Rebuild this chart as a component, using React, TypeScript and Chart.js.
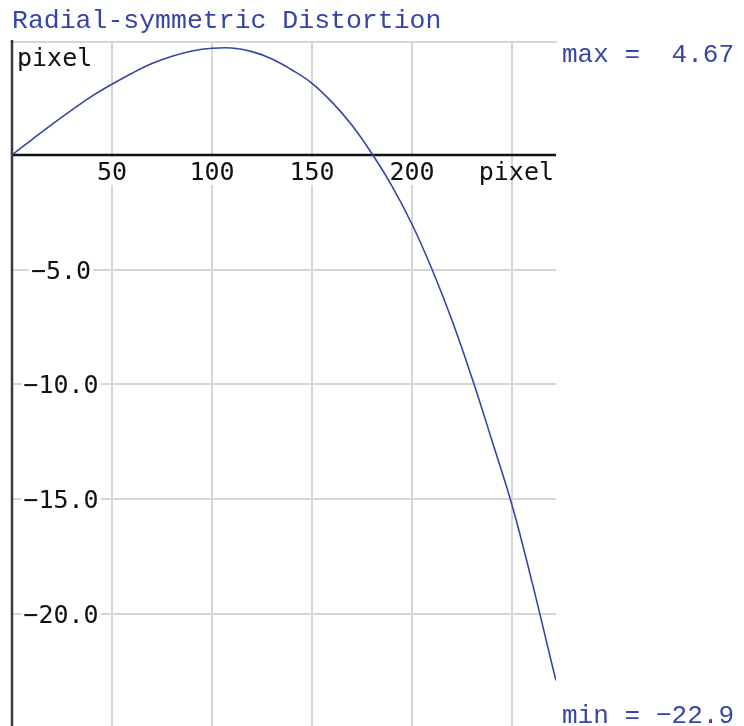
import { useEffect, useRef } from "react";
import { Chart, registerables } from "chart.js";

Chart.register(...registerables);

// ---- data ----
const radius = [0, 10, 20, 30, 40, 50, 60, 70, 80, 90, 100, 110, 120, 130, 140, 150, 160, 170, 180, 190, 200, 210, 220, 230, 240, 250, 260, 270, 272];
const distortion = [0, 0.67, 1.33, 1.96, 2.56, 3.08, 3.56, 3.98, 4.3, 4.53, 4.65, 4.66, 4.5, 4.18, 3.7, 3.12, 2.3, 1.29, 0.05, -1.36, -3.02, -4.98, -7.2, -9.72, -12.45, -15.25, -18.6, -22.2, -22.9];
const xTickLabels = [50, 100, 150, 200];
const yTicks = [-5, -10, -15, -20];
const titleText = "Radial-symmetric Distortion";
const unitLabel = "pixel";
const maxText = "max =";
const maxValue = "4.67";
const minText = "min =";
const minValue = "\u221222.9";

const X_MIN = 0;
const X_MAX = 272;
const Y_MIN = -24.88;
const Y_MAX = 4.92;

const BLUE = "#3546a6";
const GRID = "#d6d6d6";
const TICK_FONT = "25px 'DejaVu Sans Mono'";
const LABEL_FONT = "26px 'Liberation Mono'";
const TITLE_FONT = "26.5px 'Liberation Mono'";

const fmtY = (v: number) => v.toFixed(1).replace("-", "\u2212");

const overlay = {
  id: "overlay",
  beforeDatasetsDraw(chart: any) {
    const { ctx, chartArea, scales } = chart;
    const xs = scales.x;
    const ys = scales.y;
    const x0 = xs.getPixelForValue(0);
    const y0 = ys.getPixelForValue(0);
    ctx.save();
    // top border
    ctx.strokeStyle = GRID;
    ctx.lineWidth = 2;
    ctx.beginPath();
    ctx.moveTo(chartArea.left - 2, chartArea.top);
    ctx.lineTo(chartArea.right + 1, chartArea.top);
    ctx.stroke();

    // tick labels with backdrops
    ctx.font = TICK_FONT;
    ctx.textAlign = "center";
    ctx.textBaseline = "alphabetic";
    for (const v of xTickLabels) {
      const px = xs.getPixelForValue(v);
      const s = String(v);
      const w = ctx.measureText(s).width;
      ctx.fillStyle = "#fff";
      ctx.fillRect(px - w / 2 - 2, y0 + 2, w + 4, 28);
      ctx.fillStyle = "#111";
      ctx.fillText(s, px, y0 + 25);
    }
    for (const v of yTicks) {
      const py = ys.getPixelForValue(v);
      const s = fmtY(v);
      const w = ctx.measureText(s).width;
      const cx = x0 + 49;
      ctx.fillStyle = "#fff";
      ctx.fillRect(cx - w / 2 - 2, py - 11, w + 4, 22);
      ctx.fillStyle = "#111";
      ctx.fillText(s, cx, py + 9);
    }
    // unit labels
    ctx.textAlign = "right";
    ctx.fillText(unitLabel, chartArea.right - 2, y0 + 25);
    ctx.textAlign = "left";
    ctx.fillText(unitLabel, x0 + 5, chartArea.top + 24);

    // axes
    ctx.strokeStyle = "#111";
    ctx.lineWidth = 2.5;
    ctx.beginPath();
    ctx.moveTo(chartArea.left, y0);
    ctx.lineTo(chartArea.right, y0);
    ctx.stroke();
    ctx.strokeStyle = "#3a3a3a";
    ctx.beginPath();
    ctx.moveTo(x0, chartArea.top - 2);
    ctx.lineTo(x0, chartArea.bottom);
    ctx.stroke();
    ctx.restore();
  },
  afterDraw(chart: any) {
    const { ctx, chartArea } = chart;
    ctx.save();
    ctx.fillStyle = BLUE;
    ctx.textBaseline = "alphabetic";
    ctx.textAlign = "left";
    ctx.font = TITLE_FONT;
    ctx.fillText(titleText, 12, 28);
    ctx.font = LABEL_FONT;
    ctx.fillText(maxText, chartArea.right + 6, chartArea.top + 20);
    ctx.fillText(minText, chartArea.right + 6, chartArea.bottom - 3);
    ctx.textAlign = "right";
    ctx.fillText(maxValue, 734, chartArea.top + 20);
    ctx.fillText(minValue, 734, chartArea.bottom - 3);
    ctx.restore();
  },
};

export default function App() {
  const ref = useRef<HTMLCanvasElement | null>(null);
  useEffect(() => {
    if (!ref.current) return;
    const chart = new Chart(ref.current, {
      type: "line",
      data: {
        datasets: [
          {
            data: radius.map((r, i) => ({ x: r, y: distortion[i] })),
            borderColor: BLUE,
            borderWidth: 1.6,
            pointRadius: 0,
            tension: 0.4,
            fill: false,
          },
        ],
      },
      options: {
        animation: false,
        responsive: false,
        events: [],
        layout: { padding: { left: 12, top: 42, right: 188, bottom: 0 } },
        plugins: { legend: { display: false }, tooltip: { enabled: false }, title: { display: false } },
        scales: {
          x: {
            type: "linear",
            min: X_MIN,
            max: X_MAX,
            ticks: { display: false, stepSize: 50, includeBounds: false },
            grid: { color: GRID, lineWidth: 2, drawTicks: false },
            border: { display: false },
            afterFit: (s: any) => { s.height = 0; },
          },
          y: {
            type: "linear",
            min: Y_MIN,
            max: Y_MAX,
            ticks: { display: false, stepSize: 5, includeBounds: false },
            grid: { color: GRID, lineWidth: 2, drawTicks: false },
            border: { display: false },
            afterFit: (s: any) => { s.width = 0; },
          },
        },
      },
      plugins: [overlay],
    });
    return () => chart.destroy();
  }, []);
  return (
    <div style={{ position: "absolute", left: 0, top: 0, width: 744, height: 726, background: "#fff" }}>
      <canvas ref={ref} width={744} height={726} style={{ display: "block" }} />
    </div>
  );
}
